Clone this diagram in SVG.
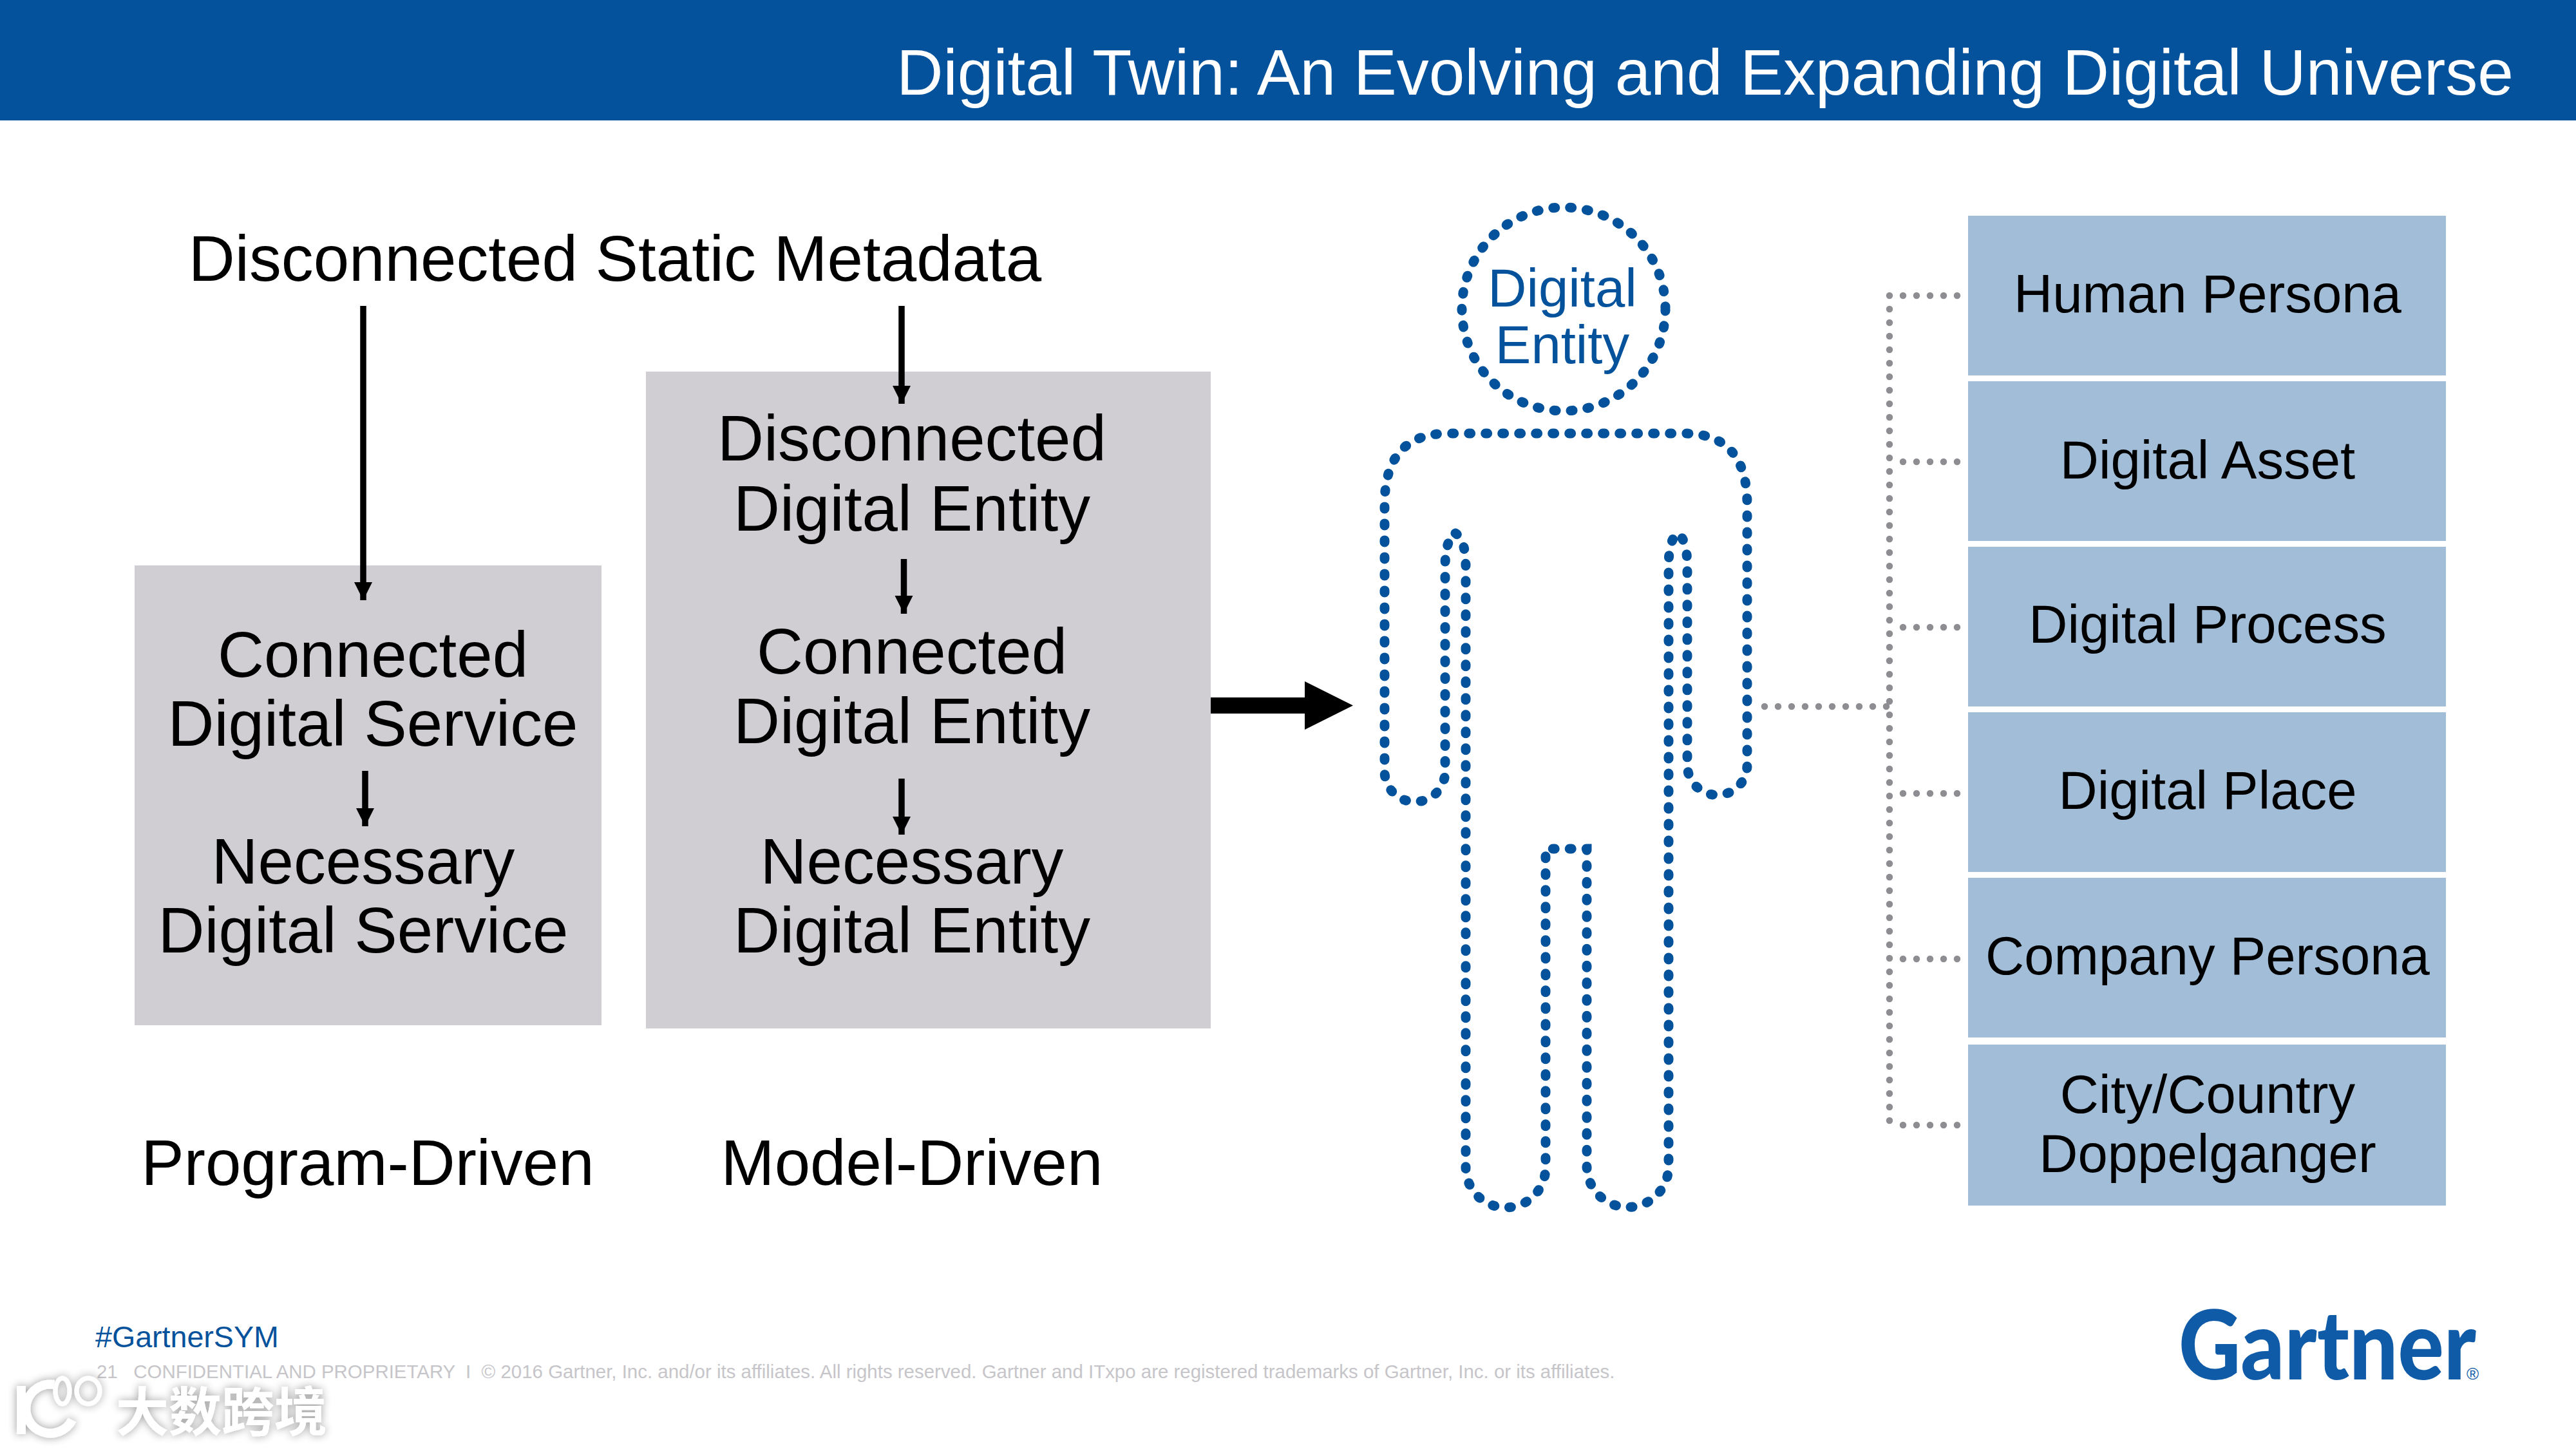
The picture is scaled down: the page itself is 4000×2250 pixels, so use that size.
<svg xmlns="http://www.w3.org/2000/svg" width="4000" height="2250" viewBox="0 0 4000 2250">
<style>
text{font-family:"Liberation Sans",Arial,sans-serif;fill:#000;text-anchor:middle}
.big{font-size:99.700px}
.lab{font-size:83.300px}
.grey{fill:#d0ced3}
.blue{fill:#a2bdd8}
.blueline{fill:none;stroke:#03529b;stroke-width:15;stroke-linecap:round;stroke-dasharray:3 23}
.dots{fill:none;stroke:#8e8d92;stroke-width:10.500;stroke-linecap:round;stroke-dasharray:0 21}
.arr{fill:none;stroke:#000;stroke-width:9.500;marker-end:url(#ah)}
</style>
<defs>
<marker id="ah" markerUnits="userSpaceOnUse" markerWidth="30" markerHeight="30" refX="28" refY="14" orient="auto"><path d="M0 0L28 14L0 28Z" fill="#000"/></marker>
<filter id="wm" x="-20%" y="-30%" width="140%" height="160%"><feGaussianBlur in="SourceAlpha" stdDeviation="7"/><feComponentTransfer><feFuncA type="linear" slope="0.4"/></feComponentTransfer><feMerge><feMergeNode/><feMergeNode in="SourceGraphic"/></feMerge></filter>
</defs>
<rect width="4000" height="2250" fill="#fff"/>
<g id="header"><rect width="4000" height="187" fill="#03529b"/>
<text x="3903" y="147" style="text-anchor:end;fill:#fff;font-size:100px">Digital Twin: An Evolving and Expanding Digital Universe</text></g>
<g id="top-label"><text class="big" x="955" y="436">Disconnected Static Metadata</text></g>
<g id="program-driven">
<rect class="grey" x="209" y="878" width="725" height="714"/>
<text class="big" x="579" y="1051">Connected</text><text class="big" x="579" y="1158">Digital Service</text>
<text class="big" x="564" y="1372">Necessary</text><text class="big" x="564" y="1479">Digital Service</text>
<text class="big" x="571" y="1840">Program-Driven</text></g>
<g id="model-driven">
<rect class="grey" x="1003" y="577" width="877" height="1020"/>
<text class="big" x="1416" y="715">Disconnected</text><text class="big" x="1416" y="824">Digital Entity</text>
<text class="big" x="1416" y="1046">Connected</text><text class="big" x="1416" y="1154">Digital Entity</text>
<text class="big" x="1416" y="1372">Necessary</text><text class="big" x="1416" y="1479">Digital Entity</text>
<text class="big" x="1416" y="1840">Model-Driven</text></g>
<g id="digital-entity">
<circle class="blueline" cx="2428" cy="480" r="158"/>
<text class="lab" x="2426" y="476" style="fill:#03529b">Digital</text><text class="lab" x="2426" y="564" style="fill:#03529b">Entity</text>
<path class="blueline" d="M2260 828Q2276 838 2276 880V1813A62 62 0 0 0 2400 1813V1318H2464V1811A63.500 63.500 0 0 0 2591 1811V880Q2591 838 2605 828Q2620 838 2620 880V1188A46.500 46.500 0 0 0 2713 1188V783Q2713 673 2615 673H2249Q2150 673 2150 783V1198A47 47 0 0 0 2244 1198V880Q2244 838 2260 828Z"/>
</g>
<g id="connectors">
<path class="arr" d="M564 475V932"/>
<path class="arr" d="M1400 475V627"/>
<path class="arr" d="M1403.500 868V953"/>
<path class="arr" d="M1400 1209V1296"/>
<path class="arr" d="M567 1197V1283"/>
<path d="M1880 1083H2026V1058L2101 1095.500L2026 1133V1108H1880Z" fill="#000"/>
<path class="dots" d="M2740 1097H2934"/>
<path class="dots" d="M3039 459H2934V1751"/>
<path class="dots" d="M3039 717H2934"/>
<path class="dots" d="M3039 974H2934"/>
<path class="dots" d="M3039 1232H2934"/>
<path class="dots" d="M3039 1489H2934"/>
<path class="dots" d="M3039 1747H2934"/>
</g>
<g id="human-persona"><rect class="blue" x="3056" y="335" width="742" height="248"/><text class="lab" x="3428" y="485">Human Persona</text></g>
<g id="digital-asset"><rect class="blue" x="3056" y="592" width="742" height="248"/><text class="lab" x="3428" y="743">Digital Asset</text></g>
<g id="digital-process"><rect class="blue" x="3056" y="849" width="742" height="248"/><text class="lab" x="3428" y="998">Digital Process</text></g>
<g id="digital-place"><rect class="blue" x="3056" y="1106" width="742" height="248"/><text class="lab" x="3428" y="1256">Digital Place</text></g>
<g id="company-persona"><rect class="blue" x="3056" y="1363" width="742" height="248"/><text class="lab" x="3428" y="1513">Company Persona</text></g>
<g id="city-country"><rect class="blue" x="3056" y="1622" width="742" height="250"/><text class="lab" x="3428" y="1728">City/Country</text><text class="lab" x="3428" y="1820">Doppelganger</text></g>
<g id="footer">
<text x="148" y="2092" style="text-anchor:start;fill:#03529b;font-size:46.600px">#GartnerSYM</text>
<text x="150" y="2140" style="text-anchor:start;fill:#c6c5c9;font-size:29.450px;white-space:pre">21   CONFIDENTIAL AND PROPRIETARY  I  © 2016 Gartner, Inc. and/or its affiliates. All rights reserved. Gartner and ITxpo are registered trademarks of Gartner, Inc. or its affiliates.</text>
</g>
<g id="gartner-logo">
<text x="3383" y="2142" textLength="462" lengthAdjust="spacingAndGlyphs" style="text-anchor:start;fill:#0f5ba8;font-size:148px;font-weight:900;font-family:'Lato','Liberation Sans',sans-serif">Gartner</text>
<text x="3830" y="2142" style="text-anchor:start;fill:#0f5ba8;font-size:26px">®</text>
</g>
<g id="watermark" filter="url(#wm)">
<path d="M33 2152V2227M84 2150A38 38 0 1 0 112 2205" fill="none" stroke="#fff" stroke-width="14"/>
<ellipse cx="97" cy="2160" rx="11" ry="20" fill="none" stroke="#fff" stroke-width="7"/>
<ellipse cx="137" cy="2160" rx="18" ry="20" fill="none" stroke="#fff" stroke-width="7"/>
<text x="344" y="2222" style="fill:#fff;font-size:82px;font-weight:700;font-family:'Noto Sans CJK SC',sans-serif">大数跨境</text>
</g>
</svg>
